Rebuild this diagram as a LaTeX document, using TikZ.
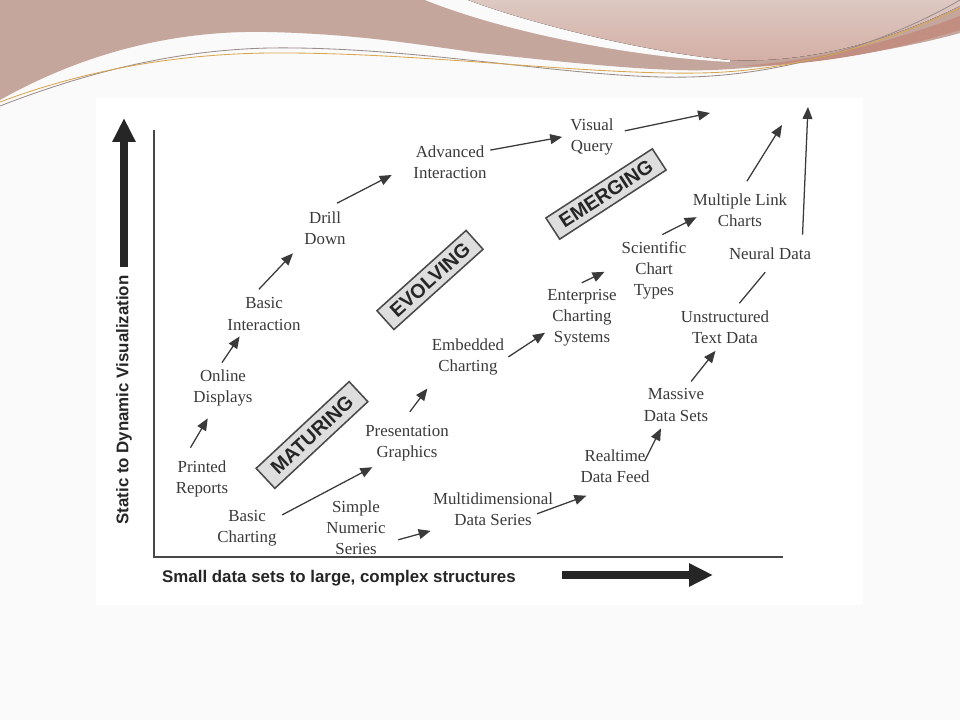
\documentclass[tikz,border=0pt]{standalone}
\usepackage{fontspec}
\setmainfont{Liberation Serif}
\setsansfont{Liberation Sans}
\usetikzlibrary{arrows.meta}
\definecolor{slidebg}{HTML}{FAFAFA}
\definecolor{rosy}{HTML}{C5A69D}
\definecolor{rosylight}{HTML}{DDC8C2}
\definecolor{rosymid}{HTML}{D3AEA4}
\definecolor{rosydark}{HTML}{C28E82}
\definecolor{goldline}{HTML}{D9A650}
\definecolor{greyline}{HTML}{9A8C8A}
\definecolor{inkgray}{HTML}{3A3A3A}
\definecolor{axisink}{HTML}{262626}
\definecolor{boxfill}{HTML}{DEDEDE}
\definecolor{boxedge}{HTML}{4A4A4A}
\tikzset{x=0.025cm, y=-0.025cm, % one unit is one pixel of the slide
>={Triangle[length=8.5pt,width=7pt]}, % filled heads as in the figure
tech/.style={font=\fontsize{12}{15}\selectfont, text=inkgray, align=center, inner sep=0pt},
stage/.style={draw=boxedge, fill=boxfill, line width=1.1pt, text=axisink,
  font=\sffamily\bfseries\fontsize{14}{15}\selectfont,
  inner xsep=7pt, inner ysep=0pt, minimum height=18pt},
flow/.style={->, draw=inkgray, line width=0.9pt}, % the small arrows
plainlink/.style={-, draw=inkgray, line width=0.9pt},
axisline/.style={draw=axisink!85, line width=1.4pt},
axislabel/.style={font=\sffamily\bfseries\fontsize{12}{14}\selectfont, text=axisink, inner sep=2pt},
bigarrow/.style={draw=axisink, line width=5.5pt, -{Triangle[length=17pt,width=15.5pt]}},
}
\begin{document}
\begin{tikzpicture}
  % slide background and the swoosh on top
  \fill[slidebg] (0,0) rectangle (960,720);
  \useasboundingbox (0,0) rectangle (960,720);
  \fill[rosy] (0,0) -- (0,100) .. controls (80,55) and (170,30) .. (267,32)
    .. controls (360,34) and (420,45) .. (480,53) .. controls (580,64) and (660,72) .. (713,70)
    .. controls (800,66) and (900,50) .. (960,33) -- (960,0) -- cycle;
  \fill[slidebg] (425,0) .. controls (500,30) and (620,56) .. (730,62) -- (730,0) -- cycle;
  \fill[top color=rosylight, bottom color=rosymid] (468,0) .. controls (520,20) and (640,52) .. (730,60)
    .. controls (820,64) and (900,35) .. (960,6) -- (960,0) -- cycle;
  \fill[rosydark] (740,66) .. controls (830,60) and (910,35) .. (960,16) -- (960,30)
    .. controls (910,45) and (830,66) .. (740,66) -- cycle;
  \draw[greyline, line width=0.6pt] (0,106) .. controls (80,75) and (170,50) .. (270,48)
    .. controls (420,46) and (580,80) .. (690,77) .. controls (800,74) and (900,35) .. (960,0);
  \draw[goldline, line width=0.6pt] (0,102) .. controls (80,72) and (170,54) .. (270,53)
    .. controls (420,52) and (580,75) .. (700,73) .. controls (810,71) and (900,35) .. (960,8);
  \fill[white] (96,98) rectangle (863,605);

  % axes
  \coordinate (ytop) at (154,130);
  \coordinate (origin) at (154,557);
  \coordinate (xend) at (783,557);
  \draw[axisline] (ytop) -- (origin) -- (xend);
  \node[axislabel, rotate=90] (ylabel) at (124,400) {Static to Dynamic Visualization};
  \node[axislabel] (xlabel) at (339,578) {Small data sets to large, complex structures};
  \coordinate (ytip) at (124,118);
  \coordinate (xtip) at (713,575);
  \draw[bigarrow, shorten <=4pt] (ylabel.east -| ytip) -- (ytip);
  \draw[bigarrow, shorten <=31pt] (xlabel.east |- xtip) -- (xtip);

  % stages
  \node[stage, rotate=43, minimum height=19.5pt, inner xsep=8pt] (maturing) at (312,435) {MATURING};
  \node[stage, rotate=42] (evolving) at (430,280) {EVOLVING};
  \node[stage, rotate=33] (emerging) at (606,194) {EMERGING};

  % technologies
  \node[tech] (printed) at (202,479) {Printed\\Reports};
  \node[tech] (online) at (223,388) {Online\\Displays};
  \node[tech] (basicint) at (264,314) {Basic\\Interaction};
  \node[tech] (drill) at (325,228) {Drill\\Down};
  \node[tech] (advanced) at (450,162) {Advanced\\Interaction};
  \node[tech] (visual) at (592,137) {Visual\\Query};
  \node[tech] (basicch) at (247,528) {Basic\\Charting};
  \node[tech] (simple) at (356,528) {Simple\\Numeric\\Series};
  \node[tech] (present) at (407,443) {Presentation\\Graphics};
  \node[tech] (embedded) at (468,357) {Embedded\\Charting};
  \node[tech] (enterprise) at (582,318) {Enterprise\\Charting\\Systems};
  \node[tech] (scientific) at (654,270) {Scientific\\Chart\\Types};
  \node[tech] (multilink) at (740,210) {Multiple Link\\Charts};
  \node[tech] (multidim) at (493,509) {Multidimensional\\Data Series};
  \node[tech] (realtime) at (615,466) {Realtime\\Data Feed};
  \node[tech] (massive) at (676,405) {Massive\\Data Sets};
  \node[tech] (unstruct) at (725,327) {Unstructured\\Text Data};
  \node[tech] (neural) at (770,254) {Neural Data};
  \coordinate (vqend) at (710,113);
  \coordinate (mlend) at (782,125);
  \coordinate (neend) at (808,107);

  \draw (printed.136) edge[flow, shorten <=10.6pt, shorten >=9.8pt] (online.246)
        (online.107) edge[flow, shorten <=5.9pt, shorten >=5.1pt] (basicint.219)
        (basicint.128) edge[flow, shorten <=8pt, shorten >=11.5pt] (drill.213)
        (drill.102) edge[flow, shorten <=12.5pt, shorten >=17.2pt] (advanced.183)
        (advanced.17) edge[flow, shorten <=2.5pt, shorten >=5.8pt] (visual.176)
        (visual.10) edge[flow, shorten <=8pt] (vqend)
        (basicch.19) edge[flow, shorten <=4.4pt, shorten >=9.1pt] (present.218)
        (present.111) edge[flow, shorten <=11.6pt, shorten >=11.6pt] (embedded.211)
        (embedded.356) edge[flow, shorten <=3.4pt, shorten >=1.7pt] (enterprise.201)
        (enterprise.115) edge[flow, shorten <=10.4pt, shorten >=13.4pt] (scientific.169)
        (scientific.98) edge[flow, shorten <=9.8pt, shorten >=-3.2pt] (multilink.191)
        (multilink.92) edge[flow, shorten <=10.1pt] (mlend)
        (simple.333) edge[flow, shorten <=9.2pt, shorten >=13.8pt] (multidim.201)
        (multidim.304) edge[flow, shorten <=24.8pt, shorten >=26.8pt] (realtime.292)
        (realtime.318) edge[flow, shorten <=17.3pt, shorten >=5.5pt] (massive.235)
        (massive.60) edge[flow, shorten <=6.4pt, shorten >=6.4pt] (unstruct.257)
        (unstruct.63) edge[plainlink, shorten <=6.5pt, shorten >=11.1pt] (neural.310)
        (neural.11) edge[flow, shorten <=9.3pt] (neend);
\end{tikzpicture}
\end{document}
